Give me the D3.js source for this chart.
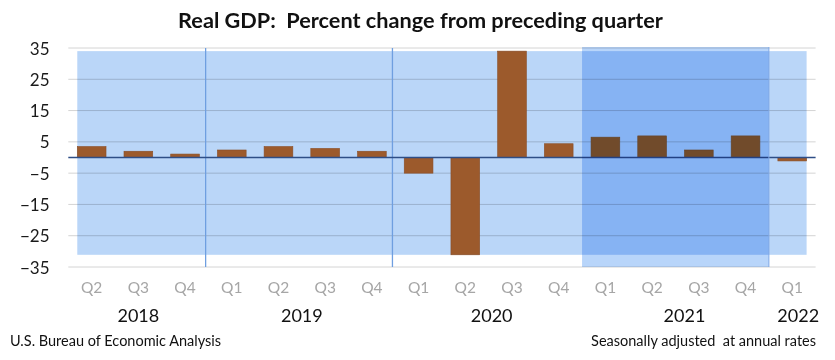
<!DOCTYPE html>
<html>
<head>
<meta charset="utf-8">
<script src="https://cdn.jsdelivr.net/npm/d3@7"></script>
<style>
  html, body { margin: 0; padding: 0; background: #fff; }
  svg { display: block; font-family: Lato, "Open Sans", sans-serif; }
</style>
</head>
<body>
<svg id="chart" width="835" height="360"></svg>
<script>
// ---- data ----
const quarters = ["Q2","Q3","Q4","Q1","Q2","Q3","Q4","Q1","Q2","Q3","Q4","Q1","Q2","Q3","Q4","Q1"];
const years    = ["2018","2018","2018","2019","2019","2019","2019","2020","2020","2020","2020","2021","2021","2021","2021","2022"];
const gdpChange = [3.5, 2.0, 1.1, 2.4, 3.5, 2.9, 2.0, -5.0, -31.1, 34.0, 4.4, 6.5, 6.9, 2.4, 6.9, -1.1];
const yTicks = [35, 25, 15, 5, -5, -15, -25, -35];
const yearLabels = ["2018","2019","2020","2021","2022"];
const highlightYear = "2021";
const title = "Real GDP:  Percent change from preceding quarter";
const sourceNote = "U.S. Bureau of Economic Analysis";
const rateNote = "Seasonally adjusted  at annual rates";

// ---- layout ----
const svg = d3.select("#chart");
const keys = quarters.map((q, i) => i);
const x = d3.scaleBand().domain(keys).range([68.3, 815.6]).paddingInner(0.385).paddingOuter(0.1925);
const y = d3.scaleLinear().domain([-35, 35]).range([267, 48]);
const step = x.step();
const left = x(0) - x.paddingOuter() * step;
const right = x(keys.length - 1) + x.bandwidth() + x.paddingOuter() * step;

// gridlines
svg.append("g").selectAll("line").data(yTicks).join("line")
  .attr("x1", left).attr("x2", right)
  .attr("y1", d => y(d)).attr("y2", d => y(d))
  .attr("stroke", "#D4D4D4").attr("stroke-width", 1);

// light background band (covers data range)
const yMax = d3.max(gdpChange), yMin = d3.min(gdpChange);
svg.append("rect")
  .attr("x", x(0)).attr("width", x(keys.length - 1) + x.bandwidth() - x(0))
  .attr("y", y(yMax)).attr("height", y(yMin) - y(yMax))
  .attr("fill", "#BAD6F8")
  .style("mix-blend-mode", "multiply");

// year separators
const firstIdx = yearLabels.map(yr => years.indexOf(yr));
const lastIdx = yearLabels.map(yr => years.lastIndexOf(yr));
const sepIdx = [firstIdx[1], firstIdx[2]];
svg.append("g").selectAll("line").data(sepIdx).join("line")
  .attr("x1", i => x(i) - x.paddingInner() * step / 2 - 2.8)
  .attr("x2", i => x(i) - x.paddingInner() * step / 2 - 2.8)
  .attr("y1", y(35)).attr("y2", y(-35))
  .attr("stroke", "#6F9FE0").attr("stroke-width", 1.3);

// bars
svg.append("g").selectAll("rect").data(gdpChange).join("rect")
  .attr("x", (d, i) => x(i))
  .attr("width", x.bandwidth())
  .attr("y", d => y(Math.max(0, d)))
  .attr("height", d => Math.abs(y(d) - y(0)))
  .attr("fill", "#9C5A2C")
  .attr("stroke", "#8A4E26").attr("stroke-width", 0.6);

// zero line
svg.append("line")
  .attr("x1", left).attr("x2", right)
  .attr("y1", y(0)).attr("y2", y(0))
  .attr("stroke", "#2E4E86").attr("stroke-width", 1.6);

// highlight band for 2021
const hi = yearLabels.indexOf(highlightYear);
const hx0 = x(firstIdx[hi]) - x.paddingInner() * step / 2;
const hx1 = x(lastIdx[hi]) + x.bandwidth() + x.paddingInner() * step / 2;
svg.append("rect")
  .attr("x", hx0).attr("width", hx1 - hx0)
  .attr("y", y(35) - 1).attr("height", y(-35) - y(35) + 1)
  .attr("fill", "#B8D5FA")
  .style("mix-blend-mode", "multiply");
svg.append("line")
  .attr("x1", hx1).attr("x2", hx1).attr("y1", y(35) - 1).attr("y2", y(-35))
  .attr("stroke", "#7FA8E6").attr("stroke-width", 1);

// y axis labels
const yAxis = d3.axisLeft(y).tickValues(yTicks).tickSize(0).tickPadding(0);
const ya = svg.append("g").attr("transform", "translate(49.5,0)").call(yAxis);
ya.select(".domain").remove();
ya.selectAll("text").attr("font-size", 17).attr("fill", "#1a1a1a")
  .attr("font-family", "Lato, sans-serif").attr("dy", "0.36em");

// quarter labels
const xAxis = d3.axisBottom(x).tickFormat(i => quarters[i]).tickSize(0).tickPadding(0);
const xa = svg.append("g").attr("transform", "translate(0,282)").call(xAxis);
xa.select(".domain").remove();
xa.selectAll("text").attr("font-size", 15.5).attr("fill", "#A6A6A6")
  .attr("font-family", "Lato, sans-serif").attr("dy", "0.72em");

// year labels
const yearDx = {"2018": 0, "2019": 0, "2020": 3, "2021": 9, "2022": 6};
svg.append("g").selectAll("text").data(yearLabels).join("text")
  .attr("x", (yr, k) => (x(firstIdx[k]) + x(lastIdx[k]) + x.bandwidth()) / 2 + yearDx[yr])
  .attr("y", 322)
  .attr("text-anchor", "middle")
  .attr("font-size", 18).attr("fill", "#111")
  .text(d => d);

// title
svg.append("text")
  .attr("x", 420.5).attr("y", 28)
  .attr("text-anchor", "middle")
  .attr("font-size", 21.7).attr("font-weight", "bold").attr("fill", "#111")
  .style("white-space", "pre").attr("xml:space", "preserve")
  .text(title);

// footers
svg.append("text").attr("x", 10).attr("y", 346)
  .attr("font-size", 14.5).attr("fill", "#111").text(sourceNote);
svg.append("text").attr("x", 816).attr("y", 346).attr("text-anchor", "end")
  .attr("font-size", 14.5).attr("fill", "#111")
  .style("white-space", "pre").attr("xml:space", "preserve")
  .text(rateNote);
</script>
</body>
</html>
